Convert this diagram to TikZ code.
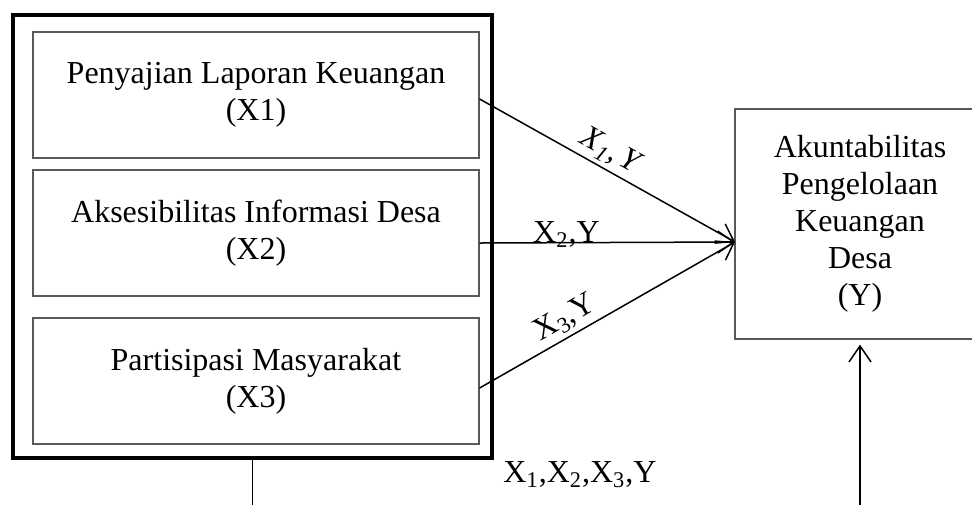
\documentclass[tikz,border=0pt]{standalone}
\usepackage{fontspec}
\setmainfont{Liberation Serif}
\usetikzlibrary{arrows.meta}
\begin{document}
\begin{tikzpicture}[
x=0.5pt,y=-0.5pt,
box/.style={
draw=black!65,
line width=0.6pt,
align=center,
font=\fontsize{16}{18.5}\selectfont,
minimum width=223pt,
minimum height=63pt
},
frame/.style={
draw,
line width=2.2pt,
minimum width=239.5pt,
minimum height=221.5pt
},
lbl/.style={font=\fontsize{16}{18.5}\selectfont,inner sep=2pt},
arrow/.style={-{Straight Barb[length=8pt,width=11pt]}, line width=0.75pt}
]
\useasboundingbox (0,0) rectangle (972,505);
\node[frame] (frame) at (252.5,236.5) {};
\node[box] (x1) at (256,95)
{Penyajian Laporan Keuangan\\
(X1)};
\node[box] (x2) at (256,233)
{Aksesibilitas Informasi Desa\\
(X2)};
\node[box] (x3) at (256,381)
{Partisipasi Masyarakat\\
(X3)};
\node[box,minimum width=125pt,minimum height=115pt] (y) at (860,224)
{Akuntabilitas\\
Pengelolaan\\
Keuangan\\
Desa\\
(Y)};
\coordinate (tip) at (735,242);
\coordinate (foot) at (frame.south |- 0,505);
\coordinate (footy) at (y.south |- 0,505);
\draw[arrow] ([yshift=-2pt]x1.east) -- node[lbl,pos=0.48,sloped,above] {\textit{X\textsubscript{1},\,Y}} (tip);
\draw[arrow] ([yshift=-5pt]x2.east) -- node[lbl,pos=0.34,anchor=base,inner sep=0pt] {X\textsubscript{2},Y} (tip);
\draw[arrow] ([yshift=-3.5pt]x3.east) -- node[lbl,pos=0.37,sloped,above] {X\textsubscript{3},Y} (tip);
\draw[line width=0.75pt] (frame.south) -- (foot);
\draw[arrow] (footy) -- ([yshift=-2.5pt]y.south);
\node[lbl] (common) at (580,475) {X\textsubscript{1},X\textsubscript{2},X\textsubscript{3},Y};
\end{tikzpicture}
\end{document}
